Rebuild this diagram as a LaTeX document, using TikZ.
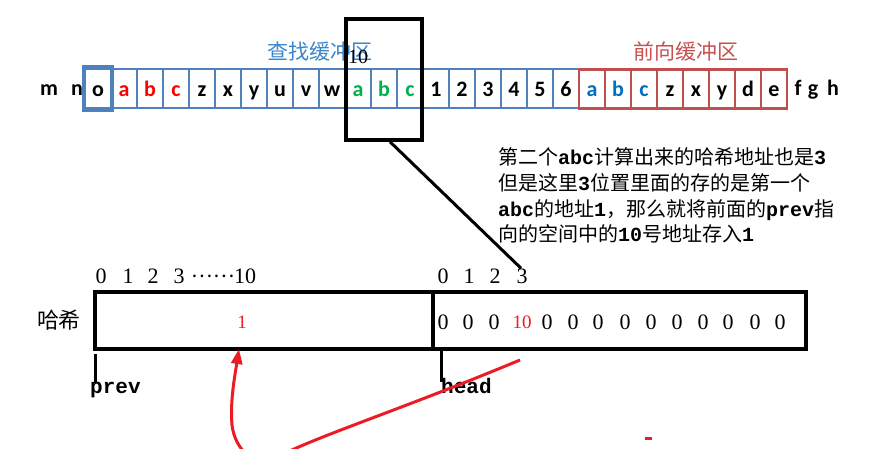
\documentclass[tikz,border=0pt]{standalone}
\usepackage{fontspec}
\setmainfont{Liberation Serif}
\newfontfamily\cjkf{Noto Sans CJK SC}
\newfontfamily\calibf{Carlito}
\newfontfamily\monof{Liberation Mono}
\usetikzlibrary{arrows.meta}
\definecolor{cellblue}{HTML}{4F81BD}
\definecolor{cellred}{HTML}{C0504D}
\definecolor{tred}{HTML}{FF0000}
\definecolor{tgreen}{HTML}{00B050}
\definecolor{tblue}{HTML}{0070C0}
\definecolor{titleblue}{HTML}{3A86CC}
\definecolor{titlered}{HTML}{C8504F}
\definecolor{pred}{HTML}{ED1C24}
\begin{document}
\begin{tikzpicture}[x=1pt,y=-1pt,
  cell/.style={draw=#1, line width=2.5pt, minimum width=26pt, minimum height=39pt,
    inner sep=0pt, text height=15pt, text depth=0pt,
    font=\calibf\bfseries\fontsize{22}{22}\selectfont},
  freeletter/.style={inner sep=0pt, text height=15pt, text depth=0pt,
    font=\calibf\bfseries\fontsize{22}{22}\selectfont},
  title/.style={inner sep=0pt, font=\cjkf\fontsize{21}{21}\selectfont},
  idx/.style={inner sep=0pt, anchor=base, font=\fontsize{22}{22}\selectfont},
  val/.style={inner sep=0pt, anchor=base, font=\fontsize{22}{22}\selectfont},
  redval/.style={inner sep=0pt, anchor=base, text=pred, font=\fontsize{19}{19}\selectfont},
  note/.style={inner sep=0pt, anchor=base west, font=\cjkf\fontsize{20}{20}\selectfont},
  ptrlabel/.style={inner sep=0pt, anchor=base west, font=\monof\bfseries\fontsize{21}{21}\selectfont},
  bigbox/.style={draw, line width=3.5pt, inner sep=0pt, minimum height=57pt},
  tick/.style={line width=3pt}
]
\useasboundingbox (0,0) rectangle (895,448);
\fill[white] (0,0) rectangle (895,448);

% titles
\node[title, text=titleblue] (tsearch) at (320,51.5) {查找缓冲区};
\node[title, text=titlered] (tahead) at (686,51) {前向缓冲区};

% free letters
\node[freeletter] (lm) at (49,88) {m};
\node[freeletter] (ln) at (77,88) {n};
\node[freeletter] (lf) at (798,88) {f};
\node[freeletter] (lg) at (813,88) {g};
\node[freeletter] (lh) at (833,88) {h};

% search buffer cells
\foreach \t/\c [count=\i from 0] in {o/black,a/tred,b/tred,c/tred,z/black,x/black,y/black,u/black,v/black,w/black,a/tgreen,b/tgreen,c/tgreen,1/black,2/black,3/black,4/black,5/black,6/black}
  \node[cell=cellblue, text=\c] (b\i) at ({98+26*\i},88.5) {\t};
\draw[cellblue, line width=3pt] ([shift={(-0.5,1)}]b0.south west) rectangle ([shift={(0.5,-1)}]b0.north east);

% look-ahead buffer cells
\foreach \t/\c [count=\i from 0] in {a/tblue,b/tblue,c/tblue,z/black,x/black,y/black,d/black,e/black}
  \node[cell=cellred, text=\c] (r\i) at ({592+26*\i},89) {\t};

% window
\node[draw, line width=3.5pt, minimum width=76pt, minimum height=121pt, inner sep=0pt] (win) at (384,79.5) {};
\node[inner sep=0pt, font=\fontsize{20}{20}\selectfont] (w10) at (358,57) {10};

% note text
\node[note] (n1) at (498,164) {第二个{\monof\bfseries abc}计算出来的哈希地址也是{\monof\bfseries 3}};
\node[note] (n2) at (498,190) {但是这里{\monof\bfseries 3}位置里面的存的是第一个};
\node[note] (n3) at (498,216) {{\monof\bfseries abc}的地址{\monof\bfseries 1}，那么就将前面的{\monof\bfseries prev}指};
\node[note] (n4) at (498,241) {向的空间中的{\monof\bfseries 10}号地址存入{\monof\bfseries 1}};

% hash boxes
\node[bigbox, minimum width=338pt] (hl) at (264,320.5) {};
\node[bigbox, minimum width=373pt] (hr) at (619.5,320.5) {};
\node[inner sep=0pt, font=\cjkf\fontsize{22}{22}\selectfont] (hash) at (59,320) {哈希};

% index labels
\node[idx] (l0) at (101,283) {0};
\node[idx] (l1) at (128,283) {1};
\node[idx] (l2) at (153,283) {2};
\node[idx] (l3) at (179,283) {3};
\node[idx, font=\cjkf\fontsize{20}{20}\selectfont] (ldots) at (213,283) {\raisebox{6pt}{……}};
\node[idx] (l10) at (245,283) {10};
\node[idx] (rt0) at (443,283) {0};
\node[idx] (rt1) at (469,283) {1};
\node[idx] (rt2) at (495,283) {2};
\node[idx] (rt3) at (522,283) {3};

% values
\node[redval] (one) at (242,328) {1};
\foreach \x [count=\i] in {443,468,494,547,573,598,625,651,677,703,728,755,780}
  \node[val] (z\i) at (\x,329) {0};
\node[redval] (ten) at (522,328) {10};

% pointers
\coordinate (pa) at (95,354);
\coordinate (pb) at (95,383);
\coordinate (ha) at (441.5,351);
\coordinate (hb) at (441.5,382);
\draw[tick] (pa) -- (pb);
\draw[tick] (ha) -- (hb);
\node[ptrlabel] (prev) at (90,393) {prev};
\node[ptrlabel] (head) at (441,393) {head};

% window to slot 3
\draw[line width=3pt] ([xshift=6pt]win.south) -- ([xshift=-1pt]rt3.north);

% red arrow
\coordinate (rs) at (520,360);
\coordinate (rtip) at (239,349);
\begin{scope}
\clip (0,0) rectangle (895,448);
\draw[pred, line width=3pt, -{Triangle[length=15pt,width=11pt]}]
  (rs) .. controls (400,410) and (320,435) .. (275,458)
       .. controls (255,468) and (235,450) .. (232,425)
       .. controls (230,400) and (235,375) .. (rtip);
\end{scope}
\fill[pred] (645,437) rectangle (652,440);
\end{tikzpicture}
\end{document}
